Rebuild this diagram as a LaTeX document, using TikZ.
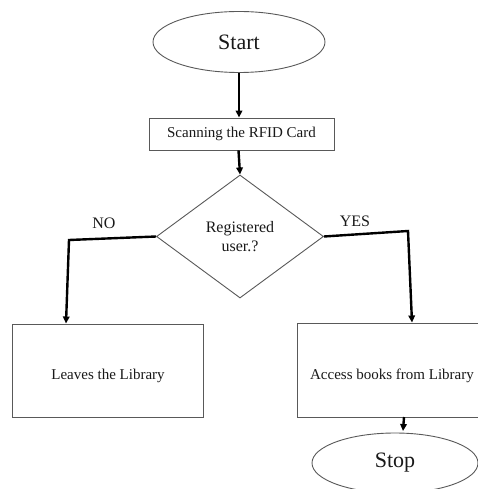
\documentclass[tikz,border=0pt]{standalone}
\usepackage{fontspec}
\setmainfont{Liberation Serif}
\usetikzlibrary{shapes.geometric,arrows.meta}
\tikzset{
  outline/.style={draw=black!65, line width=0.9pt, fill=white, inner sep=0pt, text=black!90},
  oval/.style={outline, ellipse, font=\fontsize{22}{26}\selectfont},
  procbox/.style={outline, rectangle, font=\fontsize{15}{18}\selectfont},
  decision/.style={outline, diamond, font=\fontsize{16}{19}\selectfont, align=center},
  boxtext/.style={font=\fontsize{15}{18}\selectfont, text=black!90},
  flow/.style={line width=2.4pt, black, -{Triangle[length=7pt,width=6.5pt]}},
  lbl/.style={font=\fontsize{16}{19}\selectfont, text=black!90}
}
\begin{document}
\begin{tikzpicture}[x=1pt,y=-1pt]
\useasboundingbox (0,0) rectangle (478,489);
\clip (0,0) rectangle (478,489);
\node[oval, minimum width=172pt, minimum height=61pt] (start) at (239,42) {Start};
\node[procbox, minimum width=185pt, minimum height=32pt] (scan) at (241.5,134) {Scanning the RFID Card};
\node[decision, minimum width=167pt, minimum height=123pt] (dec) at (240,236.5) {Registered\\user.?};
\node[procbox, minimum width=191pt, minimum height=93pt] (leave) at (107.5,370.5) {};
\node[boxtext] (leavetext) at (108,376) {Leaves the Library};
\node[procbox, minimum width=190pt, minimum height=94pt] (access) at (392,370) {};
\node[boxtext] (accesstext) at (392,376) {Access books from Library};
\node[oval, minimum width=166pt, minimum height=60pt] (stop) at (395,463) {Stop};
\node[lbl] (no) at (104,223) {NO};
\node[lbl] (yes) at (355,221) {YES};
\coordinate (nocorner) at (69,240);
\coordinate (yescorner) at (408,231);
\draw[flow] (start.south) -- (start.south |- scan.north);
\draw[flow] ([xshift=-3pt]scan.south) -- (dec.north);
\draw[flow] (dec.west) -- (nocorner) -- (66,323.5);
\draw[flow] (dec.east) -- (yescorner) -- (412,322.5);
\draw[flow] (404,417) -- (403,431);
\end{tikzpicture}
\end{document}
